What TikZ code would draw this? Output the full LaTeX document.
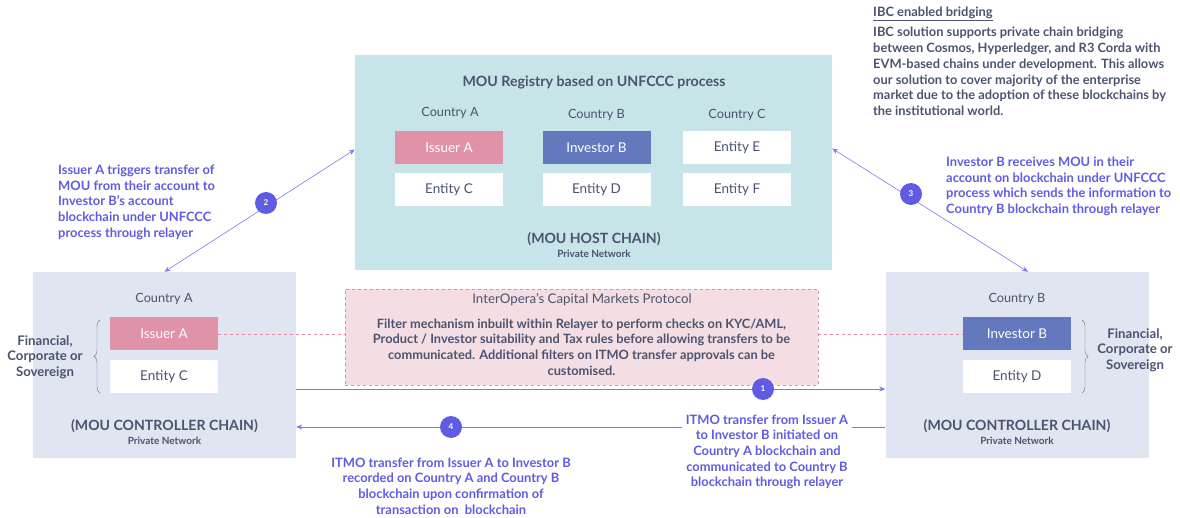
\documentclass[tikz,border=0pt]{standalone}
\usepackage{fontspec}
\setmainfont{Lato}
\usetikzlibrary{arrows.meta, positioning, calc, decorations.pathreplacing}

\definecolor{hostfill}{HTML}{C7E4E8}
\definecolor{ctrlfill}{HTML}{DFE5F1}
\definecolor{issuerpink}{HTML}{E092A8}
\definecolor{investorblue}{HTML}{6479BD}
\definecolor{inktext}{HTML}{4B5370}
\definecolor{stepviolet}{HTML}{5F5BE3}
\definecolor{linkviolet}{HTML}{7B78EE}
\definecolor{protofill}{HTML}{F4DEE4}
\definecolor{protoedge}{HTML}{E98AA5}

\begin{document}
\begin{tikzpicture}[
        x=1pt, y=-1pt,
        every node/.style={text=inktext},
        ctrlbox/.style={fill=ctrlfill, minimum width=263pt, minimum height=186pt, inner sep=0pt},
        hostbox/.style={fill=hostfill, minimum width=477pt, minimum height=215pt, inner sep=0pt},
        entity/.style={fill=white, minimum width=108pt, minimum height=33pt, inner sep=0pt, font=\fontsize{13.5}{16}\selectfont},
        issuer/.style={entity, fill=issuerpink, text=white},
        investor/.style={entity, fill=investorblue, text=white},
        heading/.style={font=\fontsize{12.7}{15}\selectfont},
        chaintitle/.style={font=\bfseries\fontsize{14.1}{17}\selectfont},
        network/.style={font=\bfseries\fontsize{10}{12}\selectfont},
        kind/.style={align=center, font=\bfseries\fontsize{13.2}{15.5}\selectfont},
        note/.style={text=stepviolet, font=\bfseries\fontsize{12.9}{15.6}\selectfont, inner sep=0pt},
        flow/.style={linkviolet, semithick, -{Stealth[length=6pt, width=5pt]}},
        twoway/.style={linkviolet, semithick, {Stealth[length=6pt, width=5pt]}-{Stealth[length=6pt, width=5pt]}},
        stepdot/.style={circle, fill=stepviolet, text=white, minimum size=22pt, inner sep=0pt, font=\bfseries\fontsize{8}{9}\selectfont},
        relay/.style={protoedge, dashed, thin},
        groupbrace/.style={inktext!80, thin, decorate, decoration={brace, amplitude=6pt}},
    ]
        \useasboundingbox (0,0) rectangle (1180,518);

        % Host chain
        \node[hostbox] (host) at (593.5,162.5) {};
        \node[font=\bfseries\fontsize{14.2}{17}\selectfont] (hosttitle) at (594,83) {MOU Registry based on UNFCCC process};
        \node[heading] (hca) at (450,113) {Country A};
        \node[heading] (hcb) at (596.5,115) {Country B};
        \node[heading] (hcc) at (737,115) {Country C};
        \node[issuer] (hissuer) at (449,147.5) {Issuer A};
        \node[investor] (hinvestor) at (596.5,147.5) {Investor B};
        \node[entity] (hentE) at (737,147.5) {Entity E};
        \node[entity] (hentC) at (449,189.5) {Entity C};
        \node[entity] (hentD) at (596.5,189.5) {Entity D};
        \node[entity] (hentF) at (737,189.5) {Entity F};
        \node[chaintitle] (hostchain) at (594,239) {(MOU HOST CHAIN)};
        \node[network] (hostnet) at (594,254) {Private Network};

        % Controller chains
        \node[ctrlbox] (ctrlA) at (164.5,365) {};
        \node[heading] (ctrlAcountry) at (164,299) {Country A};
        \node[issuer] (issuerA) at (164,334) {Issuer A};
        \node[entity] (entityC) at (164,376.5) {Entity C};
        \node[chaintitle] (ctrlAchain) at (164.5,426) {(MOU CONTROLLER CHAIN)};
        \node[network] (ctrlAnet) at (164.5,441) {Private Network};
        \draw[groupbrace] (100,393) -- (100,320);
        \node[kind] (ctrlAkind) at (45,357) {Financial,\\Corporate or\\Sovereign};

        \node[ctrlbox] (ctrlB) at (1017,365) {};
        \node[heading] (ctrlBcountry) at (1017,299) {Country B};
        \node[investor] (investorB) at (1017,334) {Investor B};
        \node[entity] (entityD) at (1017,376.5) {Entity D};
        \node[chaintitle] (ctrlBchain) at (1017,426) {(MOU CONTROLLER CHAIN)};
        \node[network] (ctrlBnet) at (1017,441) {Private Network};
        \draw[groupbrace] (1082,320) -- (1082,393);
        \node[kind] (ctrlBkind) at (1135,350) {Financial,\\Corporate or\\Sovereign};

        % Relayer protocol
        \node[fill=protofill, draw=protoedge, dashed, minimum width=473pt, minimum height=96pt, inner sep=0pt] (proto) at (581.5,337) {};
        \node[font=\fontsize{13.3}{16}\selectfont] (prototitle) at (582,300) {InterOpera’s Capital Markets Protocol};
        \node[align=center, font=\bfseries\fontsize{12.8}{15.6}\selectfont, inner sep=0pt] (protobody) at (581.5,347) {Filter mechanism inbuilt within Relayer to perform checks on KYC/AML,\\Product / Investor suitability and Tax rules before allowing transfers to be\\communicated. Additional filters on ITMO transfer approvals can be\\customised.};
        \draw[relay] (issuerA.east) -- (proto.west |- issuerA.east);
        \draw[relay] (proto.east |- investorB.west) -- (investorB.west);

        % Flows
        \coordinate (aout) at (ctrlA.east |- 0,389);
        \coordinate (bin) at (ctrlB.west |- 0,389);
        \coordinate (bout) at (ctrlB.west |- 0,427);
        \coordinate (ain) at (ctrlA.east |- 0,427);
        \draw[flow] (aout) -- (bin);
        \draw[flow] (bout) -- (ain);
        \draw[twoway] (ctrlA.north) -- ($(host.west)+(0,-13)$);
        \draw[twoway] ($(host.east)+(0,-14)$) -- ($(ctrlB.north)+(11,0)$);

        \node[stepdot] (s1) at (763,389) {1};
        \node[stepdot] (s2) at (266,203) {2};
        \node[stepdot] (s3) at (911,194) {3};
        \node[stepdot] (s4) at (451,427) {4};

        % Annotations
        \node[note, align=left, anchor=north west] (note2) at (58,165) {Issuer A triggers transfer of\\MOU from their account to\\Investor B’s account\\blockchain under UNFCCC\\process through relayer};
        \node[note, align=left, anchor=north west] (note3) at (946,157) {Investor B receives MOU in their\\account on blockchain under UNFCCC\\process which sends the information to\\Country B blockchain through relayer};
        \node[note, align=center, fill=white, inner sep=4pt] (note1) at (767,452) {ITMO transfer from Issuer A\\to Investor B initiated on\\Country A blockchain and\\communicated to Country B\\blockchain through relayer};
        \node[note, align=center] (note4) at (451,486) {ITMO transfer from Issuer A to Investor B\\recorded on Country A and Country B\\blockchain upon confirmation of\\transaction on\ \ blockchain};

        % IBC
        \node[font=\bfseries\fontsize{12.9}{15}\selectfont, anchor=west, inner sep=0pt] (ibctitle) at (873,14) {\underline{IBC enabled bridging}};
        \node[font=\bfseries\fontsize{12.85}{15.8}\selectfont, align=left, anchor=north west, inner sep=0pt] (ibcbody) at (873,27) {IBC solution supports private chain bridging\\between Cosmos, Hyperledger, and R3 Corda with\\EVM-based chains under development. This allows\\our solution to cover majority of the enterprise\\market due to the adoption of these blockchains by\\the institutional world.};
    \end{tikzpicture}
\end{document}
